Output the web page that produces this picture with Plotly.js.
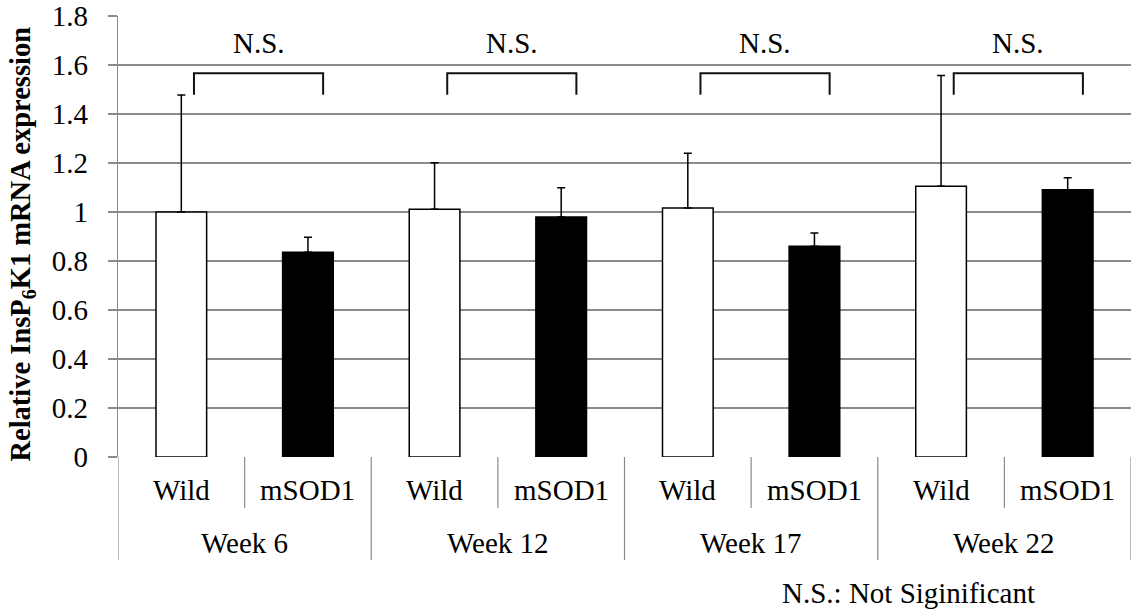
<!DOCTYPE html>
<html>
<head>
<meta charset="utf-8">
<script src="https://cdn.plot.ly/plotly-3.0.1.min.js"></script>
<style>html,body{margin:0;padding:0;background:#fff;}#chart{width:1131px;height:614px;}</style>
</head>
<body>
<div id="chart"></div>
<script>
// ---- data ----
const weeks = ['Week 6', 'Week 12', 'Week 17', 'Week 22'];
const genotypes = ['Wild', 'mSOD1'];
const wildValues = [1.000, 1.011, 1.016, 1.105];
const wildErrors = [0.478, 0.190, 0.224, 0.452];
const msodValues = [0.836, 0.980, 0.860, 1.091];
const msodErrors = [0.061, 0.119, 0.054, 0.049];
const sigLabels = ['N.S.', 'N.S.', 'N.S.', 'N.S.'];
const yTicks = [0, 0.2, 0.4, 0.6, 0.8, 1, 1.2, 1.4, 1.6, 1.8];
const yTickText = ['0', '0.2', '0.4', '0.6', '0.8', '1', '1.2', '1.4', '1.6', '1.8'];
const yTitle = '<b>Relative InsP<sub>6</sub>K1 mRNA expression</b>';
const footnote = 'N.S.: Not Siginificant';

// ---- drawing ----
const FONT = '"Liberation Serif", "Times New Roman", serif';
const FS = 29;
const GRID = '#8a8a8a';

const xWild = weeks.map((w, i) => i * 2);
const xMsod = weeks.map((w, i) => i * 2 + 1);

const errStyle = {type: 'data', symmetric: false, color: '#000', thickness: 1.5, width: 4};

const traces = [
  {
    type: 'bar', x: xWild, y: wildValues, width: 0.4, name: genotypes[0],
    marker: {color: '#ffffff', line: {color: '#000', width: 1.5}},
    error_y: Object.assign({array: wildErrors, arrayminus: wildErrors.map(() => 0)}, errStyle),
    hoverinfo: 'y'
  },
  {
    type: 'bar', x: xMsod, y: msodValues, width: 0.4, name: genotypes[1],
    marker: {color: '#000000', line: {color: '#000', width: 1.5}},
    error_y: Object.assign({array: msodErrors, arrayminus: msodErrors.map(() => 0)}, errStyle),
    hoverinfo: 'y'
  }
];

const shapes = [];
const annotations = [];

// category axis separators
const innerBottom = -0.1156, outerBottom = -0.2336;
shapes.push({type: 'line', xref: 'x', yref: 'paper', x0: -0.5, x1: -0.5, y0: 0, y1: outerBottom,
  line: {color: GRID, width: 1.2}});
weeks.forEach((w, i) => {
  shapes.push({type: 'line', xref: 'x', yref: 'paper', x0: i * 2 + 0.5, x1: i * 2 + 0.5, y0: 0, y1: innerBottom,
    line: {color: GRID, width: 1.2}});
  shapes.push({type: 'line', xref: 'x', yref: 'paper', x0: i * 2 + 1.5, x1: i * 2 + 1.5, y0: 0, y1: outerBottom,
    line: {color: GRID, width: 1.2}});
  genotypes.forEach((g, j) => {
    annotations.push({xref: 'x', yref: 'paper', x: i * 2 + j, y: -0.0748, text: g, showarrow: false,
      xanchor: 'center', yanchor: 'middle', font: {family: FONT, size: FS, color: '#000'}});
  });
  annotations.push({xref: 'x', yref: 'paper', x: i * 2 + 0.5, y: -0.195, text: w, showarrow: false,
    xanchor: 'center', yanchor: 'middle', font: {family: FONT, size: FS, color: '#000'}});

  // significance bracket
  const xl = i * 2 + 0.1, xr = i * 2 + 1.12;
  shapes.push({type: 'path', xref: 'x', yref: 'y',
    path: `M ${xl} 1.479 L ${xl} 1.566 L ${xr} 1.566 L ${xr} 1.479`,
    line: {color: '#111', width: 2}});
  annotations.push({xref: 'x', yref: 'y', x: (xl + xr) / 2, y: 1.69, text: sigLabels[i], showarrow: false,
    xanchor: 'center', yanchor: 'middle', font: {family: FONT, size: FS, color: '#000'}});
});

annotations.push({xref: 'paper', yref: 'paper', x: 0.78, y: -0.308, text: footnote, showarrow: false,
  xanchor: 'center', yanchor: 'middle', font: {family: FONT, size: FS, color: '#000'}});

// y-axis title
annotations.push({xref: 'paper', yref: 'paper', x: -0.0938, y: 0.484, text: yTitle, showarrow: false,
  textangle: -90, xanchor: 'center', yanchor: 'middle', font: {family: FONT, size: 28.5, color: '#000'}});

const layout = {
  width: 1131, height: 614,
  margin: {l: 118, r: 0, t: 16, b: 157, pad: 0},
  paper_bgcolor: '#fff', plot_bgcolor: '#fff',
  showlegend: false, barmode: 'overlay',
  font: {family: FONT, size: FS, color: '#000'},
  shapes: shapes,
  annotations: annotations,
  xaxis: {range: [-0.5, 7.5], showticklabels: false, showgrid: false, zeroline: false,
    showline: false, ticks: '', fixedrange: true},
  yaxis: {range: [0, 1.8], tickvals: yTicks, ticktext: yTickText, showgrid: true, gridcolor: GRID,
    gridwidth: 1.2, zeroline: false, showline: true, linecolor: GRID, linewidth: 1.2,
    ticks: 'outside', ticklen: 9, tickcolor: GRID, tickwidth: 1.2, ticklabelstandoff: 14,
    tickfont: {family: FONT, size: FS, color: '#000'},
    automargin: false, fixedrange: true}
};

Plotly.newPlot('chart', traces, layout, {displayModeBar: false, staticPlot: true});
</script>
</body>
</html>
